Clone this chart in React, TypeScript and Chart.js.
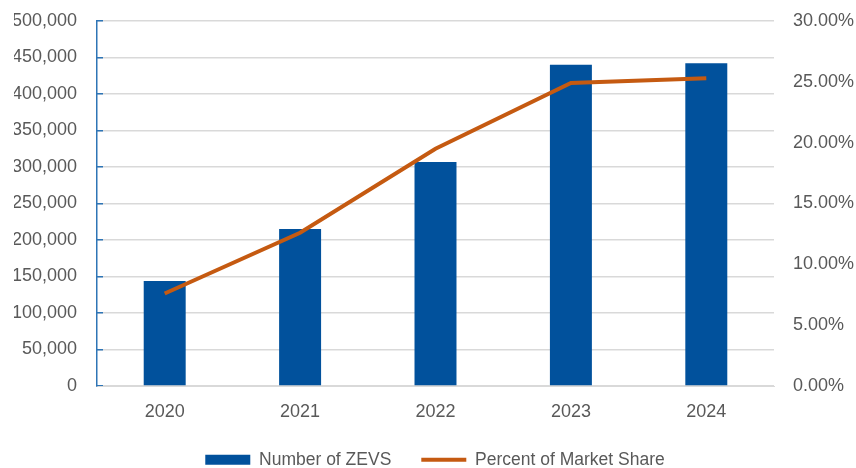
import React, { useEffect, useRef } from "react";
import { Chart, registerables } from "chart.js";

Chart.register(...registerables);

const years = ["2020", "2021", "2022", "2023", "2024"];
const zevCounts = [144000, 215000, 307000, 440000, 442000];
const marketShare = [7.6, 12.6, 19.5, 24.9, 25.3];

const BAR_COLOR = "#01519C";
const LINE_COLOR = "#C55A11";
const TEXT_COLOR = "#595959";
const GRID_COLOR = "#D9D9D9";
const AXIS_BLUE = "#2E75B6";
const FONT = "'Liberation Sans', Arial, sans-serif";

export default function App() {
  const ref = useRef<HTMLCanvasElement | null>(null);

  useEffect(() => {
    if (!ref.current) return;
    const chart = new Chart(ref.current, {
      type: "bar",
      data: {
        labels: years,
        datasets: [
          {
            type: "line",
            label: "Percent of Market Share",
            data: marketShare,
            yAxisID: "y1",
            borderColor: LINE_COLOR,
            backgroundColor: LINE_COLOR,
            borderWidth: 4,
            pointRadius: 0,
            tension: 0,
            order: 0,
          } as any,
          {
            type: "bar",
            label: "Number of ZEVS",
            data: zevCounts,
            yAxisID: "y",
            backgroundColor: BAR_COLOR,
            borderColor: BAR_COLOR,
            borderWidth: 0,
            barPercentage: 0.31,
            categoryPercentage: 1,
            order: 1,
          },
        ],
      },
      options: {
        responsive: false,
        maintainAspectRatio: false,
        animation: false,
        layout: { padding: { top: 21, left: 14, right: 0, bottom: -10.5 } },
        plugins: {
          tooltip: { enabled: false },
          legend: {
            position: "bottom",
            reverse: true,
            labels: {
              usePointStyle: true,
              pointStyleWidth: 45,
              boxHeight: 10,
              padding: 30,
              color: TEXT_COLOR,
              font: { family: FONT, size: 17.5 },
              generateLabels: (c: any) => {
                const items = Chart.defaults.plugins.legend.labels.generateLabels(c);
                return items.map((it: any) => {
                  const ds = c.data.datasets[it.datasetIndex];
                  if (ds.type === "line") {
                    return { ...it, pointStyle: "line", lineWidth: 4, strokeStyle: LINE_COLOR };
                  }
                  return { ...it, pointStyle: "rect", lineWidth: 0, fillStyle: BAR_COLOR };
                });
              },
            },
          },
        },
        scales: {
          x: {
            grid: { display: false, drawTicks: false },
            border: { display: true, color: GRID_COLOR },
            ticks: { color: TEXT_COLOR, font: { family: FONT, size: 18 }, padding: 15 },
            afterFit: (s: any) => {
              s.height = 35;
              s.paddingLeft = 0;
              s.paddingRight = 0;
            },
          },
          y: {
            position: "left",
            min: 0,
            max: 500000,
            grid: {
              color: GRID_COLOR,
              drawTicks: true,
              tickLength: -6,
              tickColor: AXIS_BLUE,
              lineWidth: 1.5,
            },
            border: { display: true, color: AXIS_BLUE, width: 1.5 },
            ticks: {
              stepSize: 50000,
              padding: 26,
              color: TEXT_COLOR,
              font: { family: FONT, size: 18 },
              callback: (v: any) => Number(v).toLocaleString("en-US"),
            },
            afterFit: (s: any) => {
              s.width = 83;
              s.paddingTop = 0;
              s.paddingBottom = 0;
            },
          },
          y1: {
            position: "right",
            min: 0,
            max: 30,
            grid: { display: false, drawTicks: false },
            border: { display: false },
            ticks: {
              stepSize: 5,
              padding: 19,
              color: TEXT_COLOR,
              font: { family: FONT, size: 18 },
              callback: (v: any) => Number(v).toFixed(2) + "%",
            },
            afterFit: (s: any) => {
              s.width = 82;
              s.paddingTop = 0;
              s.paddingBottom = 0;
            },
          },
        },
      },
    } as any);
    return () => chart.destroy();
  }, []);

  return (
    <div style={{ position: "absolute", left: 0, top: 0, width: 856, height: 468, background: "#fff" }}>
      <canvas ref={ref} width={856} height={468} />
    </div>
  );
}
